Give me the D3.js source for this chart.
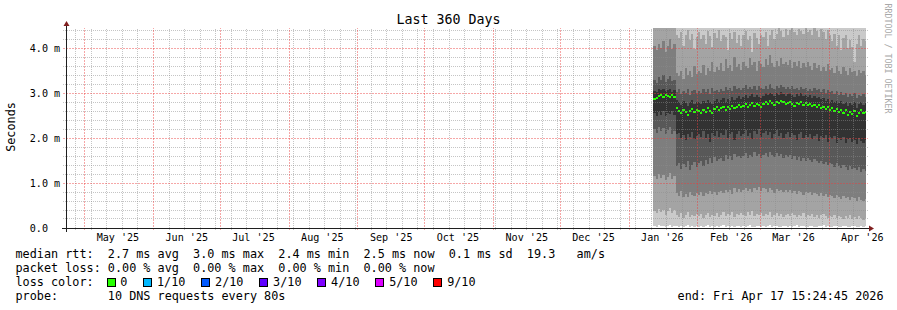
<!DOCTYPE html>
<html><head><meta charset="utf-8">
<script src="https://cdn.jsdelivr.net/npm/d3@7"></script>
<style>
body{margin:0;background:#fff}
svg{display:block}
text{font-family:"DejaVu Sans Mono",monospace;fill:#000;white-space:pre}
</style></head>
<body><svg id="c" width="897" height="310"></svg>
<script>
// ---------------- DATA ----------------
const title = "Last 360 Days";
const yAxisTitle = "Seconds";
const watermark = "RRDTOOL / TOBI OETIKER";
const yTickValues = [0, 1, 2, 3, 4];
const yTickLabels = ["0.0", "1.0 m", "2.0 m", "3.0 m", "4.0 m"];
const xTickLabels = ["May '25","Jun '25","Jul '25","Aug '25","Sep '25","Oct '25","Nov '25","Dec '25","Jan '26","Feb '26","Mar '26","Apr '26"];
const rangeStart = "2025-04-22T15:24:45Z";
const rangeEnd = "2026-04-17T15:24:45Z";
const dataStart = "2026-01-12T00:00:00Z"; // daily samples from this day
const dataEnd = "2026-04-18T00:00:00Z";

// median rtt (ms), one value per day
const median = [
2.86,2.90,2.93,2.95,2.92,2.96,2.93,2.91,2.95,2.92,
2.66,2.60,2.55,2.62,2.58,2.52,2.60,2.65,2.57,2.62,
2.60,2.56,2.63,2.58,2.66,2.61,2.55,2.64,2.68,2.62,
2.66,2.70,2.62,2.68,2.64,2.72,2.66,2.70,2.74,2.68,
2.72,2.76,2.70,2.74,2.78,2.72,2.76,2.73,2.70,2.75,
2.80,2.76,2.82,2.78,2.74,2.80,2.77,2.83,2.79,2.75,
2.78,2.81,2.76,2.72,2.78,2.75,2.80,2.74,2.77,2.73,
2.76,2.71,2.74,2.69,2.73,2.67,2.70,2.64,2.68,2.62,
2.66,2.60,2.64,2.58,2.63,2.56,2.62,2.52,2.58,2.54,
2.60,2.48,2.56,2.62,2.55,2.58];
// sorted pings 1..10 (ms)
const ping1 = [
0.05,0.03,0.06,0.04,0.05,0.03,0.04,0.06,0.03,0.05,
0.04,0.02,0.05,0.03,0.04,0.06,0.02,0.04,0.03,0.05,
0.03,0.05,0.02,0.04,0.06,0.03,0.04,0.02,0.05,0.03,
0.04,0.06,0.03,0.05,0.02,0.04,0.03,0.05,0.04,0.02,
0.05,0.03,0.04,0.06,0.03,0.02,0.05,0.04,0.03,0.05,
0.02,0.04,0.06,0.03,0.05,0.04,0.02,0.03,0.05,0.04,
0.03,0.05,0.02,0.04,0.06,0.03,0.04,0.05,0.02,0.03,
0.05,0.04,0.03,0.02,0.05,0.04,0.06,0.03,0.04,0.02,
0.03,0.05,0.04,0.02,0.03,0.05,0.04,0.03,0.02,0.04,
0.05,0.03,0.02,0.04,0.03,0.05];
const ping2 = [
0.38,0.33,0.42,0.36,0.40,0.30,0.37,0.44,0.34,0.39,
0.30,0.25,0.33,0.22,0.28,0.35,0.24,0.30,0.27,0.32,
0.26,0.31,0.23,0.29,0.34,0.25,0.30,0.27,0.33,0.24,
0.29,0.35,0.26,0.31,0.28,0.36,0.25,0.32,0.29,0.34,
0.30,0.27,0.35,0.28,0.38,0.26,0.31,0.29,0.34,0.27,
0.32,0.28,0.36,0.25,0.30,0.33,0.27,0.31,0.24,0.29,
0.31,0.26,0.34,0.28,0.25,0.30,0.27,0.33,0.24,0.29,
0.27,0.32,0.25,0.29,0.23,0.28,0.31,0.26,0.22,0.27,
0.25,0.29,0.22,0.27,0.24,0.20,0.26,0.23,0.28,0.21,
0.24,0.19,0.26,0.22,0.18,0.23];
const ping3 = [
1.15,1.10,1.20,1.12,1.18,1.06,1.14,1.22,1.08,1.16,
0.78,0.72,0.82,0.70,0.76,0.68,0.80,0.74,0.71,0.77,
0.74,0.80,0.72,0.78,0.75,0.83,0.76,0.81,0.73,0.79,
0.82,0.77,0.85,0.79,0.84,0.76,0.88,0.81,0.86,0.80,
0.84,0.90,0.82,0.87,0.80,0.89,0.84,0.92,0.83,0.88,
0.86,0.80,0.90,0.84,0.78,0.87,0.82,0.85,0.79,0.84,
0.81,0.85,0.78,0.83,0.76,0.82,0.79,0.74,0.80,0.77,
0.79,0.73,0.78,0.75,0.71,0.77,0.72,0.76,0.69,0.74,
0.72,0.67,0.74,0.69,0.65,0.71,0.66,0.70,0.63,0.68,
0.66,0.61,0.69,0.63,0.60,0.65];
const ping4 = [
2.20,2.12,2.25,2.15,2.22,2.08,2.18,2.24,2.10,2.16,
1.38,1.45,1.32,1.42,1.35,1.48,1.30,1.40,1.46,1.36,
1.44,1.50,1.38,1.52,1.42,1.55,1.45,1.58,1.48,1.53,
1.56,1.50,1.62,1.54,1.60,1.52,1.65,1.57,1.61,1.55,
1.60,1.66,1.55,1.63,1.58,1.68,1.60,1.65,1.56,1.62,
1.66,1.58,1.70,1.62,1.57,1.67,1.60,1.64,1.55,1.62,
1.58,1.63,1.54,1.60,1.52,1.58,1.50,1.56,1.48,1.55,
1.52,1.46,1.54,1.48,1.44,1.50,1.42,1.47,1.40,1.45,
1.42,1.36,1.44,1.38,1.33,1.40,1.35,1.30,1.37,1.32,
1.34,1.28,1.36,1.25,1.31,1.27];
const ping5 = [
2.55,2.50,2.58,2.52,2.60,2.48,2.56,2.53,2.59,2.51,
2.08,2.12,2.00,2.06,1.95,2.10,2.02,2.14,1.98,2.05,
2.10,2.03,2.15,2.00,2.08,1.92,2.12,2.05,2.16,2.02,
2.12,2.06,2.18,2.01,2.10,2.14,1.96,2.08,2.15,2.04,
2.10,2.18,2.05,2.12,1.98,2.15,2.08,2.20,2.03,2.11,
2.16,2.07,2.13,1.97,2.10,2.18,2.04,2.12,2.00,2.09,
2.14,2.02,2.11,2.06,1.95,2.08,2.13,2.00,2.07,2.03,
2.10,1.98,2.05,2.09,1.94,2.04,1.99,2.07,1.92,2.02,
1.98,2.05,1.90,2.00,1.95,2.03,1.88,1.97,2.01,1.92,
1.96,1.86,1.99,1.93,1.89,1.95];
const ping6 = [
3.05,3.02,3.08,3.06,3.10,3.04,3.07,3.09,3.03,3.06,
2.85,2.80,2.74,2.82,2.78,2.72,2.80,2.84,2.76,2.81,
2.79,2.76,2.82,2.78,2.85,2.80,2.75,2.83,2.87,2.81,
2.85,2.89,2.81,2.87,2.83,2.91,2.85,2.89,2.93,2.87,
2.91,2.95,2.89,2.93,2.97,2.91,2.95,2.92,2.89,2.94,
2.99,2.95,3.01,2.97,2.93,2.99,2.96,3.02,2.98,2.94,
2.97,3.00,2.95,2.91,2.97,2.94,2.99,2.93,2.96,2.92,
2.95,2.90,2.93,2.88,2.92,2.86,2.89,2.83,2.87,2.81,
2.85,2.79,2.83,2.77,2.82,2.75,2.81,2.71,2.77,2.73,
2.79,2.67,2.75,2.81,2.74,2.77];
const ping7 = [
3.30,3.22,3.35,3.28,3.40,3.25,3.32,3.38,3.26,3.30,
3.02,3.08,2.98,3.05,3.00,3.10,2.96,3.04,3.06,2.99,
3.05,3.00,3.10,3.03,3.08,2.98,3.12,3.04,3.07,3.02,
3.10,3.05,3.14,3.06,3.12,3.04,3.16,3.08,3.11,3.06,
3.12,3.18,3.08,3.14,3.10,3.16,3.06,3.15,3.12,3.09,
3.16,3.10,3.20,3.12,3.08,3.15,3.11,3.18,3.13,3.09,
3.14,3.10,3.16,3.08,3.12,3.06,3.13,3.09,3.11,3.05,
3.10,3.04,3.12,3.06,3.09,3.02,3.08,3.00,3.06,3.02,
3.05,2.98,3.04,2.96,3.02,2.95,3.00,2.92,2.98,2.94,
2.99,2.90,2.96,2.93,2.97,2.92];
const ping8 = [
4.05,3.95,4.10,4.00,4.15,3.92,4.05,4.20,3.98,4.08,
3.45,3.38,3.50,3.32,3.55,3.40,3.48,3.35,3.60,3.42,
3.50,3.44,3.62,3.40,3.55,3.48,3.70,3.46,3.58,3.52,
3.66,3.50,3.75,3.55,3.62,3.48,3.80,3.58,3.65,3.52,
3.70,3.60,3.55,3.78,3.62,3.68,3.50,3.72,3.64,3.58,
3.75,3.62,3.85,3.66,3.58,3.72,3.60,3.78,3.65,3.70,
3.62,3.74,3.56,3.68,3.60,3.72,3.55,3.66,3.58,3.70,
3.60,3.52,3.66,3.55,3.62,3.48,3.58,3.50,3.64,3.52,
3.56,3.45,3.60,3.50,3.42,3.58,3.48,3.40,3.55,3.46,
3.50,3.38,3.52,3.44,3.48,3.40];
const ping9 = [
4.60,4.55,4.62,4.58,4.65,4.52,4.60,4.57,4.63,4.55,
4.30,4.22,4.35,4.05,4.28,4.40,4.18,4.32,3.98,4.25,
4.36,4.20,4.30,4.10,4.38,4.26,4.02,4.34,4.22,4.40,
4.15,4.30,4.24,3.95,4.33,4.20,4.36,4.12,4.28,4.05,
4.30,4.38,4.18,4.26,3.92,4.34,4.22,4.10,4.30,4.24,
4.35,4.05,4.28,4.40,4.20,4.32,4.46,4.38,4.25,4.42,
4.30,4.40,4.46,4.35,4.28,4.42,4.38,4.32,4.45,4.36,
4.40,4.30,4.46,4.38,4.25,4.42,4.35,4.20,4.40,4.30,
4.15,4.32,4.05,4.28,3.95,4.22,4.30,4.00,4.18,4.02,
3.68,4.10,4.30,4.05,4.20,4.15];
const ping10 = [
4.90,4.85,4.95,4.88,5.00,4.82,4.92,4.97,4.86,4.91,
4.80,4.75,4.85,4.70,4.82,4.88,4.74,4.79,4.86,4.72,
4.81,4.77,4.90,4.73,4.84,4.79,4.68,4.87,4.76,4.83,
4.78,4.86,4.71,4.80,4.89,4.74,4.82,4.77,4.85,4.70,
4.84,4.79,4.88,4.73,4.81,4.76,4.90,4.72,4.83,4.78,
4.86,4.74,4.80,4.89,4.75,4.84,4.79,4.71,4.87,4.76,
4.82,4.88,4.73,4.80,4.85,4.77,4.83,4.70,4.86,4.79,
4.74,4.84,4.78,4.89,4.72,4.81,4.87,4.76,4.83,4.71,
4.80,4.86,4.75,4.82,4.69,4.84,4.78,4.73,4.81,4.68,
4.79,4.74,4.83,4.70,4.77,4.72];

const smokeColors = ["#cacaca", "#a4a4a4", "#7e7e7e", "#585858", "#323232"];
const rttStats = [["2.7","avg"],["3.0","max"],["2.4","min"],["2.5","now"]];
const rttSd = "0.1";
const rttAmS = "19.3";
const lossStats = [["0.00","avg"],["0.00","max"],["0.00","min"],["0.00","now"]];
const lossLabels = ["0", "1/10", "2/10", "3/10", "4/10", "5/10", "9/10"];
const lossColors = ["#26ff00", "#00b8ff", "#0059ff", "#5e00ff", "#7e00ff", "#dd00ff", "#ff0000"];
const probeText = "10 DNS requests every 80s";
const endText = "end: Fri Apr 17 15:24:45 2026";

// ---------------- LAYOUT ----------------
const svg = d3.select("#c");
const X0 = 66, X1 = 866, Y0 = 228, Y1 = 28;
const yMax = 200 / 45;
const tStart = new Date(rangeStart), tEnd = new Date(rangeEnd);
const x = d3.scaleUtc().domain([tStart, tEnd]).range([X0, X1]);
const y = d3.scaleLinear().domain([0, yMax]).range([Y0, Y1]);
const snap = v => Math.floor(v) + 0.5;

svg.append("rect").attr("width", 897).attr("height", 310).attr("fill", "#fff");

svg.append("clipPath").attr("id", "plot").append("rect")
  .attr("x", X0).attr("y", Y1).attr("width", X1 - X0).attr("height", Y0 - Y1);

// smoke
const dates = d3.utcDay.range(new Date(dataStart), new Date(dataEnd));
const pts = dates.map((d, i) => ({t: d, i}));
pts.push({t: tEnd, i: dates.length - 1});
const pings = [ping1, ping2, ping3, ping4, ping5, ping6, ping7, ping8, ping9, ping10];
const gPlot = svg.append("g").attr("clip-path", "url(#plot)");
for (let k = 0; k < 5; k++) {
  const lo = pings[k], hi = pings[9 - k];
  const area = d3.area().curve(d3.curveStepAfter)
    .x(p => x(p.t)).y0(p => y(lo[p.i])).y1(p => y(hi[p.i]));
  gPlot.append("path").datum(pts).attr("d", area)
    .attr("fill", smokeColors[k]).attr("shape-rendering", "crispEdges");
}
// median band (2*swidth tall)
const sw = yMax / 200;
const medArea = d3.area().curve(d3.curveStepAfter)
  .x(p => x(p.t)).y0(p => y(median[p.i] - sw)).y1(p => y(median[p.i] + sw));
gPlot.append("path").datum(pts).attr("d", medArea)
  .attr("fill", lossColors[0]).attr("shape-rendering", "crispEdges");

// grid (drawn over graph as in rrdtool)
const gGrid = svg.append("g").attr("shape-rendering", "crispEdges");
const minorY = d3.range(1, 23).filter(k => k % 5 !== 0).map(k => k * 0.2);
const minorCol = "rgba(140,140,140,0.5)", majorCol = "rgba(235,60,60,0.45)";
const months = d3.utcMonth.range(tStart, tEnd);
const weeks = d3.utcSunday.range(tStart, tEnd).filter(w => w.getUTCDate() !== 1);
const hLine = (sel, col, dash) => sel.attr("x1", X0 - 3).attr("x2", X1 + 2)
  .attr("y1", d => snap(y(d))).attr("y2", d => snap(y(d)))
  .attr("stroke", col).attr("stroke-width", 1).attr("stroke-dasharray", dash);
const vLine = (sel, col, dash) => sel.attr("x1", d => snap(x(d))).attr("x2", d => snap(x(d)))
  .attr("y1", Y0 + 2).attr("y2", Y1)
  .attr("stroke", col).attr("stroke-width", 1).attr("stroke-dasharray", dash);
hLine(gGrid.selectAll(null).data(minorY).enter().append("line"), minorCol, "1,1");
vLine(gGrid.selectAll(null).data(weeks).enter().append("line"), minorCol, "1,1");
hLine(gGrid.selectAll(null).data(yTickValues.filter(v => v > 0)).enter().append("line"), majorCol, "2,1");
vLine(gGrid.selectAll(null).data(months).enter().append("line"), majorCol, "2,1");

// axes
const axisCol = "#1f1f1f", arrowCol = "#801f1f";
svg.append("line").attr("x1", X0 - 4).attr("x2", X1 + 4).attr("y1", Y0 + 0.5).attr("y2", Y0 + 0.5)
  .attr("stroke", axisCol).attr("stroke-width", 1);
svg.append("line").attr("x1", X0 + 0.5).attr("x2", X0 + 0.5).attr("y1", Y0 + 4).attr("y2", Y1 - 3)
  .attr("stroke", axisCol).attr("stroke-width", 1);
svg.append("path").attr("d", `M${X1 + 3},${Y0 - 2.5}L${X1 + 8},${Y0 + 0.5}L${X1 + 3},${Y0 + 3.5}Z`).attr("fill", arrowCol);
svg.append("path").attr("d", `M${X0 - 2.5},${Y1 - 2}L${X0 + 0.5},${Y1 - 7}L${X0 + 3.5},${Y1 - 2}Z`).attr("fill", arrowCol);

// y tick labels
svg.selectAll(null).data(yTickValues).enter().append("text")
  .attr("x", 29.8).attr("y", d => y(d) + 3.9)
  .attr("font-size", "10.1px")
  .text((d, i) => yTickLabels[i]);

// x tick labels (centered mid-month)
svg.selectAll(null).data(months).enter().append("text")
  .attr("x", d => x(d3.utcDay.offset(d, 15))).attr("y", 241)
  .attr("text-anchor", "middle").attr("font-size", "10.1px")
  .text((d, i) => xTickLabels[i]);

// title
svg.append("text").attr("x", 448.5).attr("y", 24).attr("text-anchor", "middle")
  .attr("font-size", "13.3px").text(title);
// y axis title
svg.append("text").attr("transform", "translate(15.2,127) rotate(-90)")
  .attr("text-anchor", "middle").attr("font-size", "11.8px").text(yAxisTitle);
// watermark
svg.append("text").attr("transform", "translate(885,3.5) rotate(90)")
  .attr("font-size", "8.3px").style("fill", "#a8a8a8").text(watermark);

// legend
const fs = "11.8px", cw = 7.12, lx = 15.5;
const row1 = "median rtt:  " + rttStats.map(s => s[0] + " ms " + s[1]).join("  ")
  + "  " + rttSd + " ms sd  " + rttAmS + "   am/s";
const row2 = "packet loss: " + lossStats.map(s => s[0] + " % " + s[1]).join("  ");
svg.append("text").attr("x", lx).attr("y", 258).attr("font-size", fs).text(row1);
svg.append("text").attr("x", lx).attr("y", 272).attr("font-size", fs).text(row2);
svg.append("text").attr("x", lx).attr("y", 286).attr("font-size", fs).text("loss color:");
let bx = lx + 13 * cw;
lossLabels.forEach((lab, i) => {
  svg.append("rect").attr("x", Math.floor(bx) - 0.5).attr("y", 278.5).attr("width", 8).attr("height", 8)
    .attr("fill", lossColors[i]).attr("stroke", "#000").attr("stroke-width", 1);
  svg.append("text").attr("x", bx + 12.3).attr("y", 286).attr("font-size", fs).text(lab);
  bx += (lab.length + 4.15) * cw;
});
svg.append("text").attr("x", lx).attr("y", 300).attr("font-size", fs).text("probe:       " + probeText);
svg.append("text").attr("x", 677.6).attr("y", 300).attr("font-size", fs).text(endText);
</script>
</body></html>
